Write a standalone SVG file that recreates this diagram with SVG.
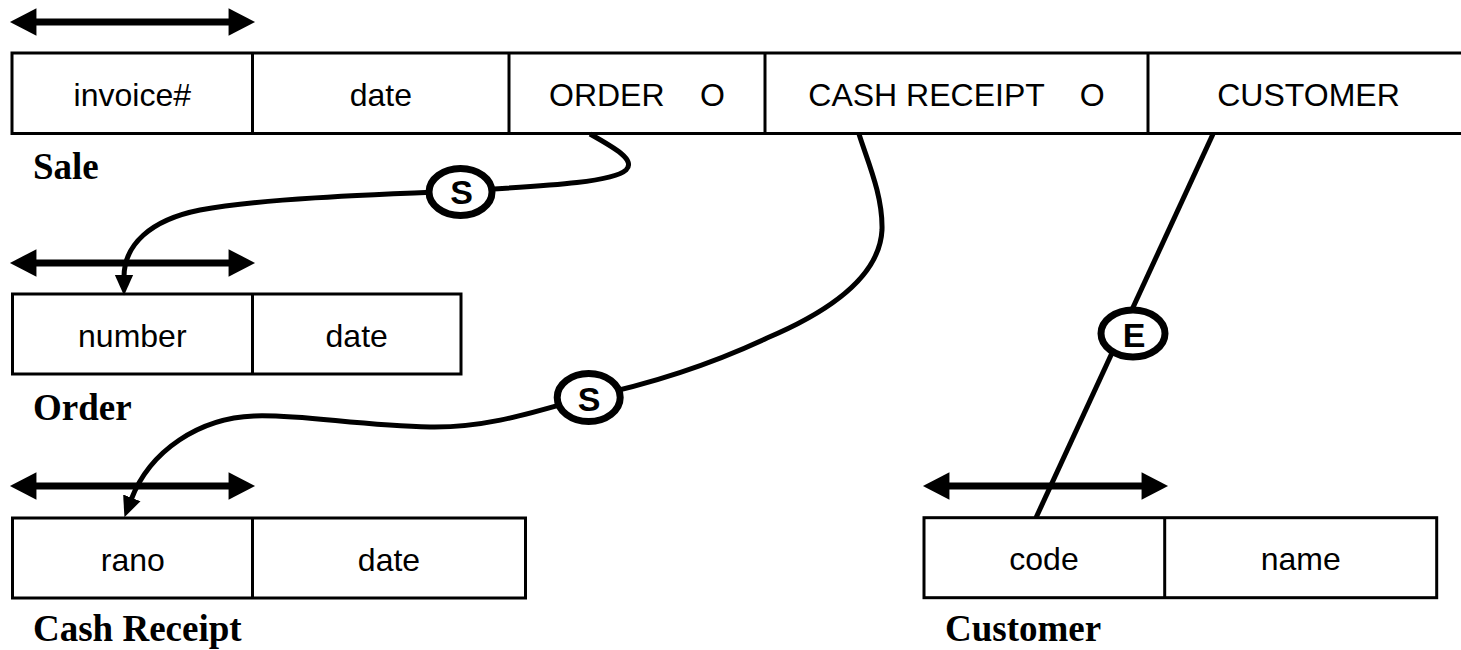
<svg xmlns="http://www.w3.org/2000/svg" width="1461" height="650" viewBox="0 0 1461 650">
  <style>
    .box { fill: #ffffff; stroke: #000000; stroke-width: 3; }
    .div { stroke: #000000; stroke-width: 3; }
    .cell { font-family: "Liberation Sans", Arial, sans-serif; font-size: 32px; fill: #000000; text-anchor: middle; }
    .title { font-family: "Liberation Serif", "Times New Roman", serif; font-size: 37px; font-weight: bold; fill: #000000; }
    .key { stroke: #000000; stroke-width: 7; fill: none; marker-start: url(#dhead); marker-end: url(#dhead); }
    .conn { stroke: #000000; stroke-width: 5; fill: none; }
    .badge { fill: #ffffff; stroke: #000000; stroke-width: 7; }
    .badgetxt { font-family: "Liberation Sans", Arial, sans-serif; font-size: 34px; font-weight: bold; fill: #000000; text-anchor: middle; }
  </style>
  <defs>
    <marker id="dhead" markerUnits="userSpaceOnUse" markerWidth="30" markerHeight="30" viewBox="0 -13 24 26" refX="3" refY="0" orient="auto-start-reverse">
      <path d="M0,-12 L23,0 L0,12 Z" fill="#000000"/>
    </marker>
    <marker id="ahead" markerUnits="userSpaceOnUse" markerWidth="22" markerHeight="22" viewBox="0 -9 19 18" refX="2" refY="0" orient="auto">
      <path d="M0,-8 L18,0 L0,8 Z" fill="#000000"/>
    </marker>
  </defs>
  <rect width="1461" height="650" fill="#ffffff"/>

  <g id="sale">
    <line class="key" x1="33" y1="22" x2="232" y2="22"/>
    <rect class="box" x="12" y="53" width="1452" height="80.5"/>
    <line class="div" x1="252.5" y1="53" x2="252.5" y2="133.5"/>
    <line class="div" x1="509" y1="53" x2="509" y2="133.5"/>
    <line class="div" x1="765" y1="53" x2="765" y2="133.5"/>
    <line class="div" x1="1148" y1="53" x2="1148" y2="133.5"/>
    <text class="cell" x="132.3" y="106">invoice#</text>
    <text class="cell" x="380.8" y="106">date</text>
    <text class="cell" x="637" y="106" xml:space="preserve">ORDER    O</text>
    <text class="cell" x="956.5" y="106" xml:space="preserve">CASH RECEIPT    O</text>
    <text class="cell" x="1308.5" y="106">CUSTOMER</text>
    <text class="title" x="33" y="179">Sale</text>
  </g>

  <g id="order">
    <line class="key" x1="33" y1="263" x2="232" y2="263"/>
    <rect class="box" x="12.5" y="294" width="448.5" height="80"/>
    <line class="div" x1="252.5" y1="294" x2="252.5" y2="374"/>
    <text class="cell" x="132.3" y="346.5">number</text>
    <text class="cell" x="356.7" y="346.5">date</text>
    <text class="title" x="33" y="420">Order</text>
  </g>

  <g id="cash-receipt">
    <line class="key" x1="33" y1="486" x2="232" y2="486"/>
    <rect class="box" x="12.5" y="518" width="513" height="80"/>
    <line class="div" x1="252.5" y1="518" x2="252.5" y2="598"/>
    <text class="cell" x="132.8" y="570.5">rano</text>
    <text class="cell" x="389" y="570.5">date</text>
    <text class="title" x="33" y="641">Cash Receipt</text>
  </g>

  <g id="customer">
    <line class="key" x1="946" y1="486" x2="1145" y2="486"/>
    <rect class="box" x="924" y="517.7" width="512.7" height="80"/>
    <line class="div" x1="1164.7" y1="517.7" x2="1164.7" y2="597.7"/>
    <text class="cell" x="1044" y="570">code</text>
    <text class="cell" x="1300.7" y="570">name</text>
    <text class="title" x="945" y="641">Customer</text>
  </g>

  <g id="connectors">
    <path class="conn" marker-end="url(#ahead)" d="M590,134 C615,148 636,160 626,170 C612,183 540,186 461,191 C360,195 260,199 200,210 C150,220 124,245 124,277"/>
    <path class="conn" marker-end="url(#ahead)" d="M859,134 C867,160 883,195 882,230 C880,268 845,305 767,338 C720,360 660,382 588,397 C540,410 490,428 430,427 C360,426 300,414 254,416 C200,418 150,450 131,500"/>
    <line class="conn" x1="1213" y1="134" x2="1036" y2="517.7"/>
  </g>

  <g id="badge-s1">
    <ellipse class="badge" cx="460.5" cy="192" rx="31.5" ry="23.5"/>
    <text class="badgetxt" x="461.5" y="203.5">S</text>
  </g>
  <g id="badge-s2">
    <ellipse class="badge" cx="588.7" cy="397.5" rx="31.5" ry="24"/>
    <text class="badgetxt" x="589" y="411">S</text>
  </g>
  <g id="badge-e">
    <ellipse class="badge" cx="1133" cy="333.5" rx="32" ry="23.5"/>
    <text class="badgetxt" x="1134" y="347">E</text>
  </g>
</svg>
